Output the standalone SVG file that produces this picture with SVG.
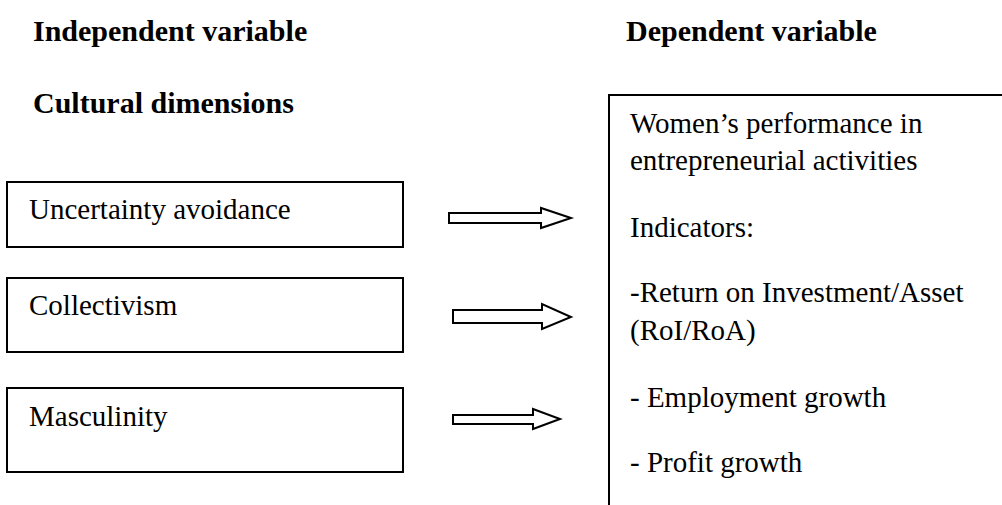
<svg xmlns="http://www.w3.org/2000/svg" width="1002" height="505" viewBox="0 0 1002 505">
<style>
.h{font-family:"Liberation Serif","Times New Roman",serif;font-weight:bold;font-size:30px;fill:#000}
.t{font-family:"Liberation Serif","Times New Roman",serif;font-size:29px;fill:#000}
.box{fill:#fff;stroke:#000;stroke-width:2}
.arr{fill:#fff;stroke:#000;stroke-width:2;stroke-linejoin:miter}
</style>
<rect width="1002" height="505" fill="#fff"/>
<g id="headers">
<text class="h" x="33" y="41">Independent variable</text>
<text class="h" x="626" y="41">Dependent variable</text>
<text class="h" x="33" y="113">Cultural dimensions</text>
</g>
<g id="node-uncertainty">
<rect class="box" x="7" y="182" width="396" height="65"/>
<text class="t" x="29" y="219">Uncertainty avoidance</text>
</g>
<g id="node-collectivism">
<rect class="box" x="7" y="278" width="396" height="74"/>
<text class="t" x="29" y="315">Collectivism</text>
</g>
<g id="node-masculinity">
<rect class="box" x="7" y="388" width="396" height="84"/>
<text class="t" x="29" y="426">Masculinity</text>
</g>
<g id="node-performance">
<path class="box" d="M609,506 V95 H1003" fill="none"/>
<text class="t" x="630" y="133">Women’s performance in</text>
<text class="t" x="630" y="170">entrepreneurial activities</text>
<text class="t" x="630" y="237">Indicators:</text>
<text class="t" x="630" y="302">-Return on Investment/Asset</text>
<text class="t" x="630" y="340">(RoI/RoA)</text>
<text class="t" x="630" y="407">- Employment growth</text>
<text class="t" x="630" y="472">- Profit growth</text>
</g>
<g id="connectors">
<polygon class="arr" points="449,213 541,213 541,208 571,218 541,228 541,223 449,223"/>
<polygon class="arr" points="453,310 542,310 542,304 571,317 542,329 542,323 453,323"/>
<polygon class="arr" points="453,415 533,415 533,409 560,419 533,429 533,424 453,424"/>
</g>
</svg>
